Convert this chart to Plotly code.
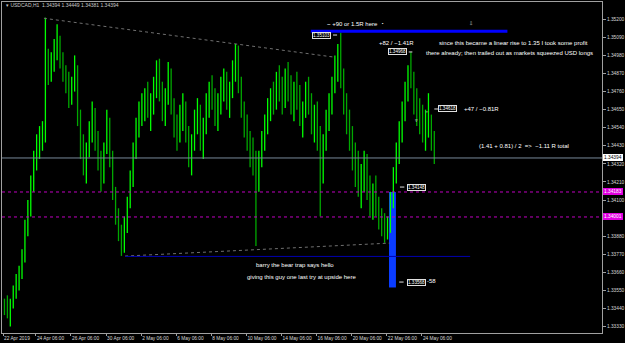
import plotly.graph_objects as go

# ---------------- data (H4 bars, hour index 0 = first visible H1 bar) ----------------
bar_hours = list(range(0, 592, 4))
first_open = 1.3346
highs = [1.3350,1.3352,1.3350,1.3358,1.3365,1.3370,1.3380,1.3398,1.3410,1.3425,
         1.3440,1.3450,1.3455,1.3458,1.3521,1.3502,1.3500,1.3508,1.3517,1.3510,
         1.3500,1.3492,1.3488,1.3485,1.3498,1.3492,1.3465,1.3450,1.3445,1.3458,
         1.3470,1.3466,1.3452,1.3440,1.3445,1.3465,1.3460,1.3440,1.3418,1.3405,
         1.3395,1.3400,1.3412,1.3428,1.3445,1.3460,1.3470,1.3475,1.3478,1.3482,
         1.3475,1.3485,1.3495,1.3496,1.3482,1.3478,1.3494,1.3490,1.3472,1.3462,
         1.3468,1.3475,1.3470,1.3455,1.3450,1.3465,1.3472,1.3468,1.3460,1.3475,
         1.3482,1.3486,1.3478,1.3475,1.3485,1.3490,1.3488,1.3482,1.3495,1.3505,
         1.3504,1.3485,1.3470,1.3462,1.3452,1.3448,1.3440,1.3440,1.3452,1.3462,
         1.3472,1.3478,1.3482,1.3488,1.3492,1.3485,1.3490,1.3494,1.3486,1.3482,
         1.3488,1.3480,1.3470,1.3482,1.3485,1.3475,1.3468,1.3470,1.3455,1.3450,
         1.3465,1.3475,1.3485,1.3498,1.3505,1.3512,1.3490,1.3475,1.3465,1.3455,
         1.3445,1.3440,1.3432,1.3440,1.3438,1.3425,1.3420,1.3425,1.3412,1.3405,
         1.3402,1.3400,1.3415,1.3430,1.3445,1.3458,1.3470,1.3482,1.3492,1.3500,
         1.3488,1.3478,1.3472,1.3468,1.3465,1.3475,1.3462,1.3452]
lows = [1.3340,1.3338,1.3333,1.3344,1.3350,1.3355,1.3362,1.3372,1.3388,1.3400,
        1.3415,1.3428,1.3435,1.3440,1.3445,1.3480,1.3482,1.3488,1.3495,1.3490,
        1.3482,1.3475,1.3466,1.3468,1.3476,1.3455,1.3435,1.3425,1.3420,1.3436,
        1.3445,1.3440,1.3428,1.3415,1.3420,1.3438,1.3430,1.3410,1.3395,1.3385,
        1.3376,1.3378,1.3390,1.3405,1.3418,1.3435,1.3448,1.3455,1.3458,1.3460,
        1.3452,1.3462,1.3472,1.3470,1.3458,1.3455,1.3468,1.3462,1.3448,1.3440,
        1.3445,1.3452,1.3445,1.3430,1.3425,1.3440,1.3450,1.3440,1.3435,1.3450,
        1.3460,1.3465,1.3455,1.3452,1.3462,1.3470,1.3465,1.3460,1.3472,1.3482,
        1.3475,1.3460,1.3448,1.3440,1.3430,1.3425,1.3382,1.3415,1.3430,1.3440,
        1.3450,1.3458,1.3462,1.3465,1.3470,1.3462,1.3466,1.3470,1.3462,1.3458,
        1.3465,1.3455,1.3448,1.3460,1.3462,1.3450,1.3445,1.3440,1.3400,1.3420,
        1.3440,1.3452,1.3462,1.3475,1.3482,1.3478,1.3462,1.3450,1.3440,1.3428,
        1.3418,1.3412,1.3405,1.3415,1.3410,1.3400,1.3398,1.3400,1.3392,1.3388,
        1.3384,1.3386,1.3390,1.3405,1.3420,1.3432,1.3445,1.3458,1.3470,1.3478,
        1.3462,1.3455,1.3450,1.3445,1.3440,1.3448,1.3440,1.3432]
closes = [1.3345,1.3342,1.3348,1.3355,1.3362,1.3365,1.3376,1.3392,1.3405,1.3420,
          1.3436,1.3444,1.3446,1.3450,1.3500,1.3490,1.3496,1.3503,1.3508,1.3495,
          1.3486,1.3480,1.3472,1.3480,1.3490,1.3460,1.3440,1.3432,1.3440,1.3452,
          1.3462,1.3448,1.3434,1.3425,1.3440,1.3455,1.3435,1.3415,1.3400,1.3390,
          1.3385,1.3395,1.3408,1.3422,1.3440,1.3455,1.3462,1.3468,1.3470,1.3465,
          1.3468,1.3480,1.3488,1.3476,1.3465,1.3472,1.3485,1.3468,1.3455,1.3450,
          1.3460,1.3466,1.3450,1.3438,1.3445,1.3458,1.3462,1.3448,1.3455,1.3470,
          1.3475,1.3470,1.3462,1.3470,1.3480,1.3482,1.3474,1.3478,1.3490,1.3495,
          1.3480,1.3465,1.3455,1.3445,1.3440,1.3435,1.3425,1.3435,1.3445,1.3458,
          1.3465,1.3472,1.3470,1.3480,1.3475,1.3470,1.3482,1.3478,1.3470,1.3475,
          1.3470,1.3460,1.3465,1.3475,1.3468,1.3458,1.3462,1.3448,1.3430,1.3445,
          1.3460,1.3470,1.3480,1.3490,1.3495,1.3485,1.3470,1.3458,1.3448,1.3435,
          1.3430,1.3420,1.3425,1.3432,1.3418,1.3408,1.3415,1.3405,1.3398,1.3395,
          1.3390,1.3396,1.3410,1.3425,1.3440,1.3450,1.3465,1.3478,1.3488,1.3485,
          1.3470,1.3465,1.3460,1.3452,1.3458,1.3460,1.3445,1.3436]

time_tick_hours = [0, 45, 93, 141, 189, 237, 285, 333, 381, 429, 477, 525, 573]
time_tick_labels = ["22 Apr 2019", "24 Apr 06:00", "26 Apr 06:00", "30 Apr 06:00",
                    "2 May 06:00", "6 May 06:00", "8 May 06:00", "10 May 06:00",
                    "14 May 06:00", "16 May 06:00", "20 May 06:00", "22 May 06:00",
                    "24 May 06:00"]
price_ticks = [1.35200, 1.35090, 1.34980, 1.34870, 1.34760, 1.34650, 1.34540, 1.34430,
               1.34320, 1.34210, 1.34100, 1.33990, 1.33880, 1.33770, 1.33660, 1.33550,
               1.33440, 1.33330]
# the 1.33990 label is hidden behind the magenta price box in the original
price_tick_labels = ["1.35200", "1.35090", "1.34980", "1.34870", "1.34760", "1.34650",
                     "1.34540", "1.34430", "1.34320", "1.34210", "1.34100", "",
                     "1.33880", "1.33770", "1.33660", "1.33550", "1.33440", "1.33330"]

bid_price = 1.34356
bid_label = "1.34394"
magenta_levels = [1.34149, 1.33997]
magenta_labels = ["1.34183", "1.34001"]

FONT = "Liberation Sans"

opens = [first_open] + closes[:-1]

def segments(up):
    xs, ys = [], []
    for h, o, hi, lo, c in zip(bar_hours, opens, highs, lows, closes):
        if (c >= o) == up:
            xs += [h + 2, h + 2, None]
            ys += [lo, hi, None]
    return xs, ys

fig = go.Figure()
for up, col in [(True, "#00FF00"), (False, "#00A800")]:
    xs, ys = segments(up)
    fig.add_trace(go.Scatter(x=xs, y=ys, mode="lines", line=dict(color=col, width=1.3),
                             hoverinfo="skip", showlegend=False))

X0, X1 = -1.37, 819.4
shapes = []
shapes.append(dict(type="rect", x0=528, x1=537.5, y0=1.33568, y1=1.34149, xref="x", yref="y",
                   fillcolor="#0A3CFF", line=dict(width=0), layer="below"))
shapes.append(dict(type="line", x0=X0, x1=X1, y0=bid_price, y1=bid_price, xref="x", yref="y",
                   line=dict(color="#778899", width=1)))
for lv in magenta_levels:
    shapes.append(dict(type="line", x0=X0, x1=X1, y0=lv, y1=lv, xref="x", yref="y",
                       line=dict(color="#C000C0", width=1, dash="dot")))
shapes.append(dict(type="line", x0=56, x1=454, y0=1.35206, y1=1.34969, xref="x", yref="y",
                   line=dict(color="#707070", width=1, dash="dot")))
shapes.append(dict(type="line", x0=167, x1=529, y0=1.33759, y1=1.33838, xref="x", yref="y",
                   line=dict(color="#707070", width=1, dash="dot")))
shapes.append(dict(type="line", x0=167, x1=639, y0=1.33757, y1=1.33757, xref="x", yref="y",
                   line=dict(color="#0000B0", width=1)))
shapes.append(dict(type="line", x0=421, x1=690, y0=1.35127, y1=1.35127, xref="x", yref="y",
                   line=dict(color="#0000FF", width=3)))

annotations = []
def txt(x, y, s, size=6.0, color="#FFFFFF", xanchor="left"):
    annotations.append(dict(x=x, y=y, xref="x", yref="y", text=s, showarrow=False,
                            xanchor=xanchor, yanchor="middle",
                            font=dict(family=FONT, size=size, color=color)))

txt(440.4, 1.35172, "~ +90 or 1.5R here")
txt(515.7, 1.35172, "▪", size=4)
txt(634.7, 1.35178, "⇩", size=5, color="#C0C0C0")
txt(511.6, 1.35056, "+82 / −1.41R")
txt(593.6, 1.35056, "since this became a linear rise to 1.35 I took some profit")
txt(575.9, 1.34995, "there already; then trailed out as markets squeezed USD longs")
txt(627.8, 1.34654, "+47 / −0.81R")
txt(648.3, 1.34429, "(1.41 + 0.81) / 2  =>  −1.11 R total")
txt(343.3, 1.33705, "barry the bear trap says hello")
txt(331.0, 1.33631, "giving this guy one last try at upside here")
txt(577.2, 1.33607, "-58")
txt(560.5, 1.34587, "▿", size=4.5)
txt(576.5, 1.34641, "▫", size=4.5)

def box(xc, y, s, tail):
    annotations.append(dict(x=xc, y=y, xref="x", yref="y", text=s, showarrow=False,
                            xanchor="center", yanchor="middle", bordercolor="#E0E0E0",
                            borderwidth=1, borderpad=0, bgcolor="#000000",
                            font=dict(family=FONT, size=4.6, color="#FFFFFF")))
    shapes.append(dict(type="line", x0=tail[0], x1=tail[1], y0=y, y1=y, xref="x", yref="y",
                       line=dict(color="#E0E0E0", width=1)))

box(436.3, 1.35104, "1.35103", (451.5, 457))
box(540.0, 1.35001, "1.34968", (555, 560))
box(608.0, 1.34654, "1.34618", (590, 595))
box(566.0, 1.34179, "1.34148", (543, 549))
box(565.0, 1.33601, "1.33568", (542, 548))

def scale_box(y, s, bg, fg):
    annotations.append(dict(x=1.0, y=y, xref="paper", yref="y", text=s, showarrow=False,
                            xanchor="left", yanchor="middle", xshift=1, bgcolor=bg,
                            bordercolor=bg, borderwidth=1, borderpad=0,
                            font=dict(family=FONT, size=4.8, color=fg)))
scale_box(bid_price, bid_label, "#FFFFFF", "#000000")
for lv, lb in zip(magenta_levels, magenta_labels):
    scale_box(lv, lb, "#E000E0", "#FFFFFF")

annotations.append(dict(x=0.004, y=0.991, xref="paper", yref="paper", showarrow=False,
                        xanchor="left", yanchor="middle",
                        text="▾ USDCAD,H1  1.34394 1.34449 1.34381 1.34394",
                        font=dict(family=FONT, size=5, color="#C8C8C8")))

fig.update_layout(width=625, height=343, margin=dict(l=2, r=23, t=2, b=10, autoexpand=False),
                  paper_bgcolor="#000000", plot_bgcolor="#000000", showlegend=False,
                  shapes=shapes, annotations=annotations)
fig.update_xaxes(range=[X0, X1], tickvals=time_tick_hours, ticktext=time_tick_labels,
                 ticks="outside", ticklen=2, tickcolor="#A0A0A0", tickangle=0,
                 ticklabelposition="outside right", automargin=False,
                 tickfont=dict(family=FONT, size=4.8, color="#D8D8D8"),
                 showgrid=False, zeroline=False, showline=True, linecolor="#A0A0A0",
                 linewidth=1, mirror=True)
fig.update_yaxes(side="right", range=[1.33291, 1.35305], tickvals=price_ticks,
                 ticktext=price_tick_labels, ticks="outside", ticklen=3, tickcolor="#A0A0A0",
                 automargin=False,
                 tickfont=dict(family=FONT, size=4.8, color="#D8D8D8"),
                 showgrid=False, zeroline=False, showline=True, linecolor="#A0A0A0",
                 linewidth=1, mirror=True)

fig.write_html("out.html")
